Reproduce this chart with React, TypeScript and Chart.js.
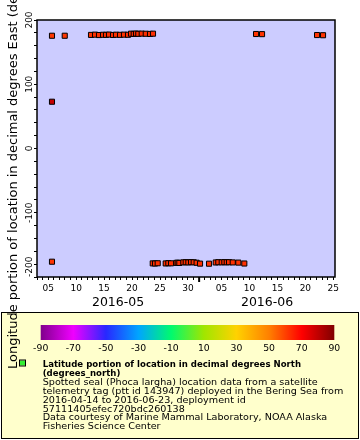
import React, { useEffect, useRef } from "react";
import { Chart, registerables } from "chart.js";

Chart.register(...registerables);

const FONT = '"DejaVu Sans", Verdana, sans-serif';

// x = day counted from 2016-05-01 (= 1); June d = 31 + d
const pointDays = [
  5.68, 5.68, 5.68, 7.96,
  12.66, 13.38, 14.09, 14.81, 15.34, 15.88, 16.6, 17.13, 17.85, 18.56, 19.28,
  19.82, 20.3, 20.71, 21.12, 21.73, 22.45, 23.21, 23.75,
  42.18, 43.25, 53.09, 54.16,
  23.7, 24.11, 24.59, 26.02, 26.49, 26.97, 27.92, 28.17, 28.46, 29.17, 29.6,
  30.07, 30.55, 31.03, 31.55, 32.16, 33.77, 34.97, 35.43, 36.04, 36.51, 36.94,
  37.35, 38.01, 39.01, 40.08,
];
const pointLons = [
  175.5, 72.8, -176.2, 175.5,
  176.8, 177.2, 176.6, 177.0, 176.9, 177.3, 176.7, 177.1, 176.9, 177.2, 177.0,
  178.7, 178.4, 178.9, 178.5, 178.8, 178.6, 178.3, 178.7,
  178.2, 178.0, 176.6, 176.3,
  -178.8, -179.0, -178.6, -178.9, -178.5, -178.7, -178.0, -177.8, -178.1, -177.2, -177.0,
  -177.3, -176.9, -177.1, -177.8, -179.2, -179.3, -177.4, -177.0, -177.2, -176.9, -177.1,
  -177.0, -177.3, -177.6, -179.0,
];
const pointLats = [
  61.5, 79.0, 62.0, 61.5,
  62.2, 62.5, 62.8, 62.4, 62.6, 62.9, 63.0, 62.7, 62.5, 62.3, 62.6,
  62.4, 62.8, 62.6, 62.9, 63.0, 62.7, 62.5, 62.8,
  62.0, 62.2, 61.8, 62.1,
  62.4, 62.6, 62.3, 62.7, 62.5, 62.8, 62.6, 62.4, 62.9, 62.7, 62.5,
  62.8, 62.6, 62.3, 62.5, 62.7, 62.4, 62.6, 62.8, 62.5, 62.7, 62.9,
  62.6, 62.4, 62.3, 62.5,
];

const xMin = 3;
const xMax = 56.3;
const yMin = -200;
const yMax = 200;
const xTickDays = Array.from({ length: 54 }, (_, i) => 3 + i);
const xLabelDays = [5, 10, 15, 20, 25, 30, 36, 41, 46, 51, 56];
const xLabelTexts = ["05", "10", "15", "20", "25", "30", "05", "10", "15", "20", "25"];
const monthBoundary = 32;
const monthLabels = ["2016-05", "2016-06"];
const monthStarts = [1, 32];
const monthEnds = [32, 62];
const yTickValues = Array.from({ length: 21 }, (_, i) => -200 + i * 20);
const yLabelValues = [-200, -100, 0, 100, 200];

const paletteValues = [-90, -70, -50, -30, -10, 10, 30, 50, 70, 90];
const paletteColors = [
  [128, 0, 140], [240, 0, 255], [40, 40, 255], [0, 165, 255], [0, 250, 110],
  [160, 230, 0], [255, 210, 0], [255, 128, 0], [255, 0, 0], [128, 0, 0],
];
const colorbarLabels = [-90, -70, -50, -30, -10, 10, 30, 50, 70, 90];

const yTitle = "Longitude portion of location in decimal degrees East (degrees_east)";
const legendTitleLines = ["Latitude portion of location in decimal degrees North", "(degrees_north)"];
const legendTextLines = [
  "Spotted seal (Phoca largha) location data from a satellite",
  "telemetry tag (ptt id 143947) deployed in the Bering Sea from",
  "2016-04-14 to 2016-06-23, deployment id",
  "57111405efec720bdc260138",
  "Data courtesy of Marine Mammal Laboratory, NOAA Alaska",
  "Fisheries Science Center",
];

function latColor(v: number): string {
  const n = paletteValues.length;
  if (v <= paletteValues[0]) return `rgb(${paletteColors[0].join(",")})`;
  if (v >= paletteValues[n - 1]) return `rgb(${paletteColors[n - 1].join(",")})`;
  for (let i = 0; i < n - 1; i++) {
    if (v >= paletteValues[i] && v <= paletteValues[i + 1]) {
      const t = (v - paletteValues[i]) / (paletteValues[i + 1] - paletteValues[i]);
      const c = paletteColors[i].map((a, k) => Math.round(a + (paletteColors[i + 1][k] - a) * t));
      return `rgb(${c.join(",")})`;
    }
  }
  return "#000";
}

function xScaleFor(ctx: CanvasRenderingContext2D, text: string, target: number) {
  return target / ctx.measureText(text).width;
}

const decorPlugin = {
  id: "decor",
  beforeDraw(chart: any) {
    const { ctx, chartArea: a } = chart;
    ctx.save();
    ctx.fillStyle = "#ffffff";
    ctx.fillRect(0, 0, chart.width, chart.height);
    ctx.fillStyle = "#ccccff";
    ctx.fillRect(a.left, a.top, a.right - a.left, a.bottom - a.top);
    ctx.restore();
  },
  afterDraw(chart: any) {
    const { ctx, chartArea: a } = chart;
    const xs = chart.scales.x;
    const ys = chart.scales.y;
    ctx.save();
    // frame
    ctx.strokeStyle = "#000";
    ctx.lineWidth = 1.5;
    ctx.strokeRect(a.left, a.top, a.right - a.left, a.bottom - a.top);
    // month boundary tick
    const mb = xs.getPixelForValue(monthBoundary);
    ctx.lineWidth = 2;
    ctx.beginPath();
    ctx.moveTo(mb, a.bottom);
    ctx.lineTo(mb, a.bottom + 5);
    ctx.stroke();

    // y tick labels
    ctx.fillStyle = "#000";
    ctx.font = `9px ${FONT}`;
    ctx.textBaseline = "alphabetic";
    yLabelValues.forEach((v) => {
      const py = ys.getPixelForValue(v);
      ctx.save();
      ctx.translate(a.left - 5, py);
      ctx.rotate(-Math.PI / 2);
      ctx.textAlign = v === yMin ? "left" : "center";
      ctx.fillText(String(v), 0, 0);
      ctx.restore();
    });

    // month labels
    ctx.font = `12.5px ${FONT}`;
    ctx.textAlign = "center";
    monthLabels.forEach((m, i) => {
      const s = Math.max(monthStarts[i], xMin);
      const e = Math.min(monthEnds[i], xMax);
      const px = (xs.getPixelForValue(s) + xs.getPixelForValue(e)) / 2;
      ctx.fillText(m, px, 306);
    });

    // legend box
    ctx.fillStyle = "#ffffcc";
    ctx.fillRect(1, 312, 358, 127);
    ctx.strokeStyle = "#000";
    ctx.lineWidth = 1;
    ctx.strokeRect(1.5, 312.5, 357, 126);

    // colorbar
    const cx0 = 40.7, cx1 = 334.3, cy0 = 325, cy1 = 340;
    const grad = ctx.createLinearGradient(cx0, 0, cx1, 0);
    paletteValues.forEach((v, i) => {
      grad.addColorStop((v - paletteValues[0]) / (paletteValues[paletteValues.length - 1] - paletteValues[0]), `rgb(${paletteColors[i].join(",")})`);
    });
    ctx.fillStyle = grad;
    ctx.fillRect(cx0, cy0, cx1 - cx0, cy1 - cy0);
    ctx.fillStyle = "#000";
    ctx.font = `9.3px ${FONT}`;
    ctx.textAlign = "center";
    colorbarLabels.forEach((v) => {
      const px = cx0 + ((v + 90) / 180) * (cx1 - cx0);
      ctx.fillText(String(v), px, 351);
    });

    // legend marker
    ctx.fillStyle = "#33ee33";
    ctx.fillRect(20, 360.5, 5, 5);
    ctx.strokeStyle = "#000";
    ctx.lineWidth = 1;
    ctx.strokeRect(19.5, 360, 6, 6);

    // legend text (9px, horizontally condensed to the reference widths)
    ctx.textAlign = "left";
    ctx.fillStyle = "#000";
    ctx.font = `bold 9px ${FONT}`;
    const bScale = xScaleFor(ctx, legendTitleLines[0], 258.3);
    ctx.font = `9px ${FONT}`;
    const nScale = xScaleFor(ctx, legendTextLines[1], 300.6);
    let by = 367.3;
    const lh = 8.85;
    ctx.font = `bold 9px ${FONT}`;
    legendTitleLines.forEach((t) => {
      ctx.save();
      ctx.translate(42.7, by);
      ctx.scale(bScale, 1);
      ctx.fillText(t, 0, 0);
      ctx.restore();
      by += lh;
    });
    ctx.font = `9px ${FONT}`;
    legendTextLines.forEach((t) => {
      ctx.save();
      ctx.translate(42.7, by);
      ctx.scale(nScale, 1);
      ctx.fillText(t, 0, 0);
      ctx.restore();
      by += lh;
    });

    // y axis title
    ctx.save();
    ctx.font = `13px ${FONT}`;
    ctx.translate(16.7, 369);
    ctx.rotate(-Math.PI / 2);
    ctx.textAlign = "left";
    ctx.fillText(yTitle, 0, 0);
    ctx.restore();

    ctx.restore();
  },
};

export default function App() {
  const ref = useRef<HTMLCanvasElement>(null);
  useEffect(() => {
    const canvas = ref.current!;
    const data = pointDays.map((d, i) => ({ x: d, y: pointLons[i] }));
    const colors = pointLats.map(latColor);
    const chart = new Chart(canvas, {
      type: "scatter",
      data: {
        datasets: [
          {
            data,
            pointStyle: "rect",
            pointRadius: 3.6,
            pointBackgroundColor: colors,
            pointBorderColor: "#000",
            pointBorderWidth: 1,
            showLine: false,
          } as any,
        ],
      },
      options: {
        responsive: false,
        animation: false,
        devicePixelRatio: 1,
        events: [],
        layout: { padding: { left: 0, top: 20, right: 25, bottom: 133 } },
        plugins: { legend: { display: false }, tooltip: { enabled: false } },
        scales: {
          x: {
            type: "linear",
            position: "bottom",
            min: xMin,
            max: xMax,
            afterBuildTicks: (s: any) => {
              s.ticks = xTickDays.map((v) => ({ value: v }));
            },
            afterFit: (s: any) => {
              s.height = 30;
            },
            grid: {
              drawOnChartArea: false,
              drawTicks: true,
              tickLength: 3,
              tickColor: "#000",
              tickWidth: 1,
            },
            border: { display: false },
            ticks: {
              autoSkip: false,
              maxRotation: 0,
              minRotation: 0,
              padding: 3,
              color: "#000",
              font: { family: FONT, size: 9 },
              callback: (v: any) => {
                const i = xLabelDays.indexOf(Number(v));
                return i >= 0 ? xLabelTexts[i] : "";
              },
            },
          },
          y: {
            type: "linear",
            min: yMin,
            max: yMax,
            afterBuildTicks: (s: any) => {
              s.ticks = yTickValues.map((v) => ({ value: v }));
            },
            afterFit: (s: any) => {
              s.width = 37;
            },
            grid: { drawOnChartArea: false, drawTicks: true, tickLength: 3, tickColor: "#000" },
            border: { display: false },
            ticks: { display: false },
          },
        },
      } as any,
      plugins: [decorPlugin],
    });
    return () => chart.destroy();
  }, []);
  return (
    <div style={{ position: "fixed", left: 0, top: 0, width: 360, height: 440, background: "#fff" }}>
      <canvas ref={ref} width={360} height={440} style={{ display: "block", width: 360, height: 440 }} />
    </div>
  );
}
